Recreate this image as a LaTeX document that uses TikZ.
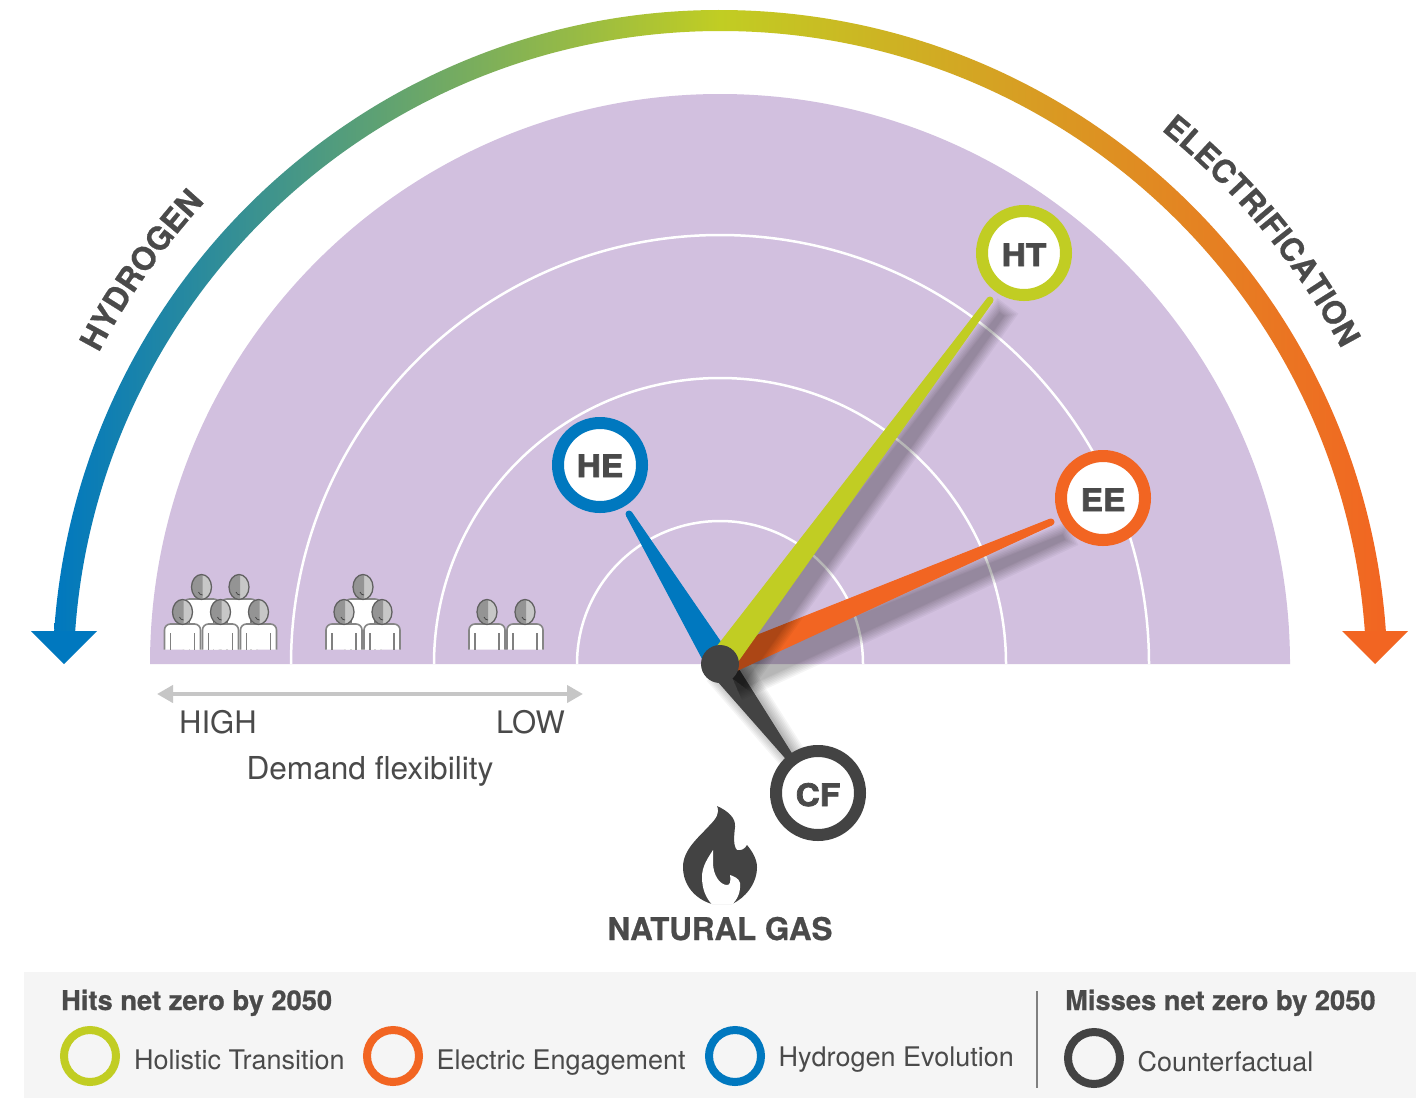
\documentclass[tikz,border=0pt]{standalone}
\usepackage{fontspec}
\setmainfont{TeX Gyre Heros}
\newfontfamily\heavyfont[FakeBold=2.4,FakeStretch=1.08]{TeX Gyre Heros Bold}
\newfontfamily\semifont[FakeBold=0.7]{TeX Gyre Heros Bold}
\usetikzlibrary{calc,decorations.text,arrows.meta}
\definecolor{lilac}{HTML}{D2C0DF}
\definecolor{limec}{HTML}{C1CD23}
\definecolor{orangec}{HTML}{F26522}
\definecolor{bluec}{HTML}{0078BF}
\definecolor{darkc}{HTML}{434343}
\definecolor{txtc}{HTML}{4A4A4A}
\definecolor{bandc}{HTML}{F5F5F5}
\newcommand\fsz[1]{\fontsize{#1}{#1}\selectfont}
% tapered needle polygon from hub to a named tip, with a round end
\newcommand\needlepath[1]{($(hub)!13pt!90:(#1)$) -- ($(#1)!3pt!-90:(hub)$) -- ($(#1)!3pt!90:(hub)$) -- ($(hub)!13pt!-90:(#1)$) -- cycle}
\newcommand\needle[2]{\filldraw[#2,line width=1pt,line join=round] \needlepath{#1};\fill[#2] (#1) circle[radius=3.5pt];}
% soft shadow: stacked translucent polygons, each a little larger
\newcommand\softshadow[3]{%
  \coordinate (shA) at ($(hub)+(#2,#3)$);
  \coordinate (shB) at ($(#1)+(#2,#3)$);
  \foreach \k [evaluate=\k as \t using \k+3, evaluate=\k as \b using \k+13] in {10,8.5,7,5.5,4,2.5,1,0}{
    \coordinate (shE) at ($(shB)!-\k pt!(shA)$);
    \fill[black,opacity=0.038] ($(shA)!\b pt!90:(shB)$) -- ($(shE)!\t pt!-90:(shA)$) -- ($(shE)!\t pt!90:(shA)$) -- ($(shA)!\b pt!-90:(shB)$) -- cycle;
  }}
\newcommand\person[2]{%
  \filldraw[fill=white,draw=gray!95,line width=1.6pt,rounded corners=6pt]
     (#1-18,649.5) -- (#1-18,#2+12) -- (#1+18,#2+12) -- (#1+18,649.5);
  \draw[gray,line width=1.3pt] (#1-12,#2+21) -- (#1-12,649.5) (#1+12,#2+21) -- (#1+12,649.5);
  \fill[black!22] (#1,#2) ellipse [x radius=10pt,y radius=12.5pt];
  \fill[black!42] (#1+1,#2-12.4) -- (#1+1,#2+12.4) arc[start angle=274,end angle=90,x radius=10.4pt,y radius=12.5pt] -- cycle;
  \draw[black!62,line width=1.3pt] (#1,#2) ellipse [x radius=10pt,y radius=12.5pt];
  \draw[darkc,line width=.7pt] (#1-3,#2+5) .. controls (#1-2,#2+7) and (#1-1,#2+8) .. (#1+1,#2+8);
}
\newcommand\ringlabel[2]{\raisebox{-#1pt}[22pt][0pt]{#2}}
\tikzset{
  ringnode/.style={circle,draw=#1,line width=12pt,fill=white,minimum size=84pt,inner sep=0pt,
     text=txtc,font=\heavyfont\fsz{31}},
  legendring/.style={circle,draw=#1,line width=8pt,minimum size=52pt,inner sep=0pt},
  legendtext/.style={anchor=base west,inner sep=0pt,text=txtc,font=\fsz{27}},
  legendhead/.style={anchor=base west,inner sep=0pt,text=txtc,font=\semifont\fsz{27.3}},
  flexlabel/.style={anchor=base,inner sep=0pt,text=txtc,font=\fsz{31}},
  whitering/.style={draw=white,line width=2.5pt},
}
\begin{document}
\begin{tikzpicture}[x=1pt,y=-1pt]
\useasboundingbox (0,0) rectangle (1423,1098);
\fill[white] (0,0) rectangle (1423,1098);

% gradient arc and arrowheads
\shade[left color=bluec,right color=orangec,middle color=limec]
  (720,677.5)+(176.1:667.5pt) arc[start angle=176.1,end angle=3.9,radius=667.5pt]
  -- ($(720,677.5)+(3.9:646.5pt)$) arc[start angle=3.9,end angle=176.1,radius=646.5pt] -- cycle;
\fill[bluec] (31,631) -- (97,631) -- (64,664) -- cycle;
\fill[orangec] (1342,631) -- (1408,631) -- (1375,664) -- cycle;

% curved titles
\path[decorate,decoration={text along path,text align=center,
   text={|\semifont\fsz{32}\color{txtc}|HYDROGEN}}]
   (720,677.5)+(159.85:701pt) arc[start angle=159.85,end angle=129.85,radius=701pt];
\path[decorate,decoration={text along path,text align=center,
   text={|\semifont\fsz{31.7}\color{txtc}|ELECTRIFICATION}}]
   (720,677.5)+(58:703pt) arc[start angle=58,end angle=21,radius=703pt];

% purple half disc and rings
\fill[lilac] (150,664) arc[start angle=180,end angle=0,radius=570pt] -- cycle;
\draw[whitering] (291,664) arc[start angle=180,end angle=0,radius=429pt];
\draw[whitering] (434,664) arc[start angle=180,end angle=0,radius=286pt];
\draw[whitering] (577,664) arc[start angle=180,end angle=0,radius=143pt];

% people
\person{201.5}{587}\person{239}{587}
\person{182.5}{612}\person{220.5}{612}\person{258.5}{612}
\person{363}{587}
\person{344}{612}\person{382}{612}
\person{487}{612}\person{525}{612}

% flexibility scale
\coordinate (flexL) at (157,694);
\coordinate (flexR) at (583,694);
\draw[gray!45,line width=4.5pt,{Triangle[length=16pt,width=17pt]}-{Triangle[length=16pt,width=17pt]}] (flexL) -- (flexR);
\node[flexlabel,anchor=base west] (high) at (179,733) {HIGH};
\node[flexlabel,anchor=base west] (low) at (496,733) {LOW};
\node[flexlabel,font=\fsz{31.6}] (flex) at (370,779) {Demand flexibility};

% needles
\coordinate (hub) at (720,664);
\coordinate (tipHT) at (990,300);
\coordinate (tipEE) at (1051,522);
\coordinate (tipHE) at (629,514);
\coordinate (tipCF) at (794,763);

\softshadow{tipCF}{5}{3}
\needle{tipCF}{darkc}
\softshadow{tipEE}{13}{15}
\needle{tipEE}{orangec}
\needle{tipHE}{bluec}
\softshadow{tipHT}{12}{14}
\needle{tipHT}{limec}
\node[circle,fill=darkc,minimum size=38pt,inner sep=0pt] (hubdot) at (hub) {};

% scenario markers
\node[ringnode=limec] (HT) at (1024,253) {\ringlabel{2}{HT}};
\node[ringnode=orangec] (EE) at (1103,498) {\ringlabel{2}{EE}};
\node[ringnode=bluec] (HE) at (600,465) {\ringlabel{1}{HE}};
\node[ringnode=darkc] (CF) at (818,793) {\ringlabel{2}{CF}};

% flame
\fill[darkc] (717,806) .. controls (728,811) and (736,818) .. (735,827)
  .. controls (734,836) and (733,846) .. (737,850)
  .. controls (741,851) and (745,849) .. (747,845)
  .. controls (752,851) and (757,859) .. (757,867)
  .. controls (757,884) and (745,898) .. (732,904)
  -- (712,904)
  .. controls (695,899) and (683,885) .. (683,867)
  .. controls (683,850) and (698,838) .. (708,827)
  .. controls (717,818) and (720,813) .. (717,806) -- cycle;
\fill[white] (713,850) .. controls (708,858) and (702,866) .. (702,877)
  .. controls (702,889) and (706,898) .. (712,904.5)
  -- (732,904.5)
  .. controls (737,900) and (741,892) .. (740,883)
  .. controls (739,878) and (733,876) .. (730,875)
  .. controls (731,882) and (730,885) .. (727,885)
  .. controls (720,885) and (713,875) .. (713,863) -- cycle;
\node[anchor=base,inner sep=0pt,text=txtc,font=\semifont\fsz{31.3}] (gas) at (720,940) {NATURAL GAS};

% legend
\fill[bandc] (24,972) rectangle (1416,1098);
\coordinate (divT) at (1037,991);
\coordinate (divB) at (1037,1088);
\draw[gray,line width=1.2pt] (divT) -- (divB);
\node[legendhead] (hits) at (61,1010) {Hits net zero by 2050};
\node[legendhead] (miss) at (1065,1010) {Misses net zero by 2050};
\node[legendring=limec] (l1) at (90,1056) {};
\node[legendring=orangec] (l2) at (393,1056) {};
\node[legendring=bluec] (l3) at (735,1056) {};
\node[legendring=darkc] (l4) at (1094,1058) {};
\node[legendtext] (t1) at (134,1069) {Holistic Transition};
\node[legendtext] (t2) at (436.5,1069) {Electric Engagement};
\node[legendtext] (t3) at (778.5,1066) {Hydrogen Evolution};
\node[legendtext] (t4) at (1137.5,1071) {Counterfactual};
\end{tikzpicture}
\end{document}
